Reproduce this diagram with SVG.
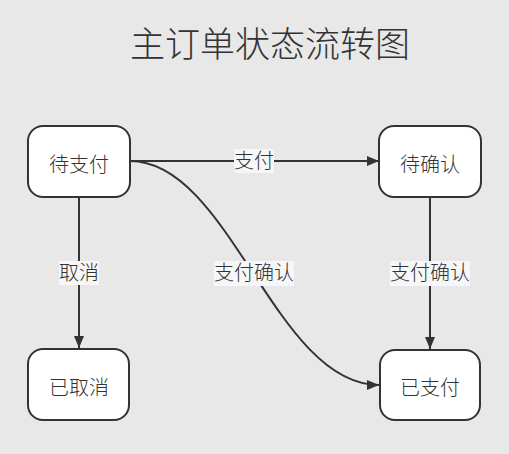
<svg xmlns="http://www.w3.org/2000/svg" width="509" height="454" viewBox="0 0 509 454">
<style>
text{font-family:"Noto Sans CJK SC","Noto Sans",sans-serif;fill:#333;text-anchor:middle;font-weight:300}
.node rect{fill:#fff;stroke:#333;stroke-width:2}
.node text{font-size:20px}
.edge{fill:none;stroke:#333;stroke-width:2}
.lbl rect{fill:#f7f7f7}
.lbl text{font-size:20px}
</style>
<defs>
<marker id="arr" viewBox="0 0 12 10" refX="12" refY="5" markerWidth="12" markerHeight="10" markerUnits="userSpaceOnUse" orient="auto">
<path d="M0,0 L12,5 L0,10 Z" fill="#333"/>
</marker>
</defs>
<rect width="509" height="454" fill="#e8e8e8"/>
<text x="270" y="57" font-size="35" id="title">主订单状态流转图</text>
<g id="connectors">
<path class="edge" d="M130,161 L379,161" marker-end="url(#arr)"/>
<path class="edge" d="M79,197 L79,348" marker-end="url(#arr)"/>
<path class="edge" d="M430,197 L430,349" marker-end="url(#arr)"/>
<path class="edge" d="M130,161 C230,161 275,385 379,385" marker-end="url(#arr)"/>
<g class="lbl"><rect x="234" y="149" width="40" height="24"/><text x="254" y="168">支付</text></g>
<g class="lbl"><rect x="59" y="261" width="40" height="24"/><text x="79" y="280">取消</text></g>
<g class="lbl"><rect x="390" y="261" width="80" height="25"/><text x="430" y="280">支付确认</text></g>
<g class="lbl"><rect x="214" y="261" width="80" height="25"/><text x="254" y="280">支付确认</text></g>
</g>
<g id="n-pending" class="node"><rect x="28" y="126" width="102" height="71" rx="15"/><text x="79" y="172">待支付</text></g>
<g id="n-confirm" class="node"><rect x="379" y="126" width="102" height="71" rx="15"/><text x="430" y="172">待确认</text></g>
<g id="n-cancelled" class="node"><rect x="28" y="349" width="101" height="71" rx="15"/><text x="79" y="395">已取消</text></g>
<g id="n-paid" class="node"><rect x="380" y="350" width="100" height="70" rx="15"/><text x="430" y="395">已支付</text></g>
</svg>
